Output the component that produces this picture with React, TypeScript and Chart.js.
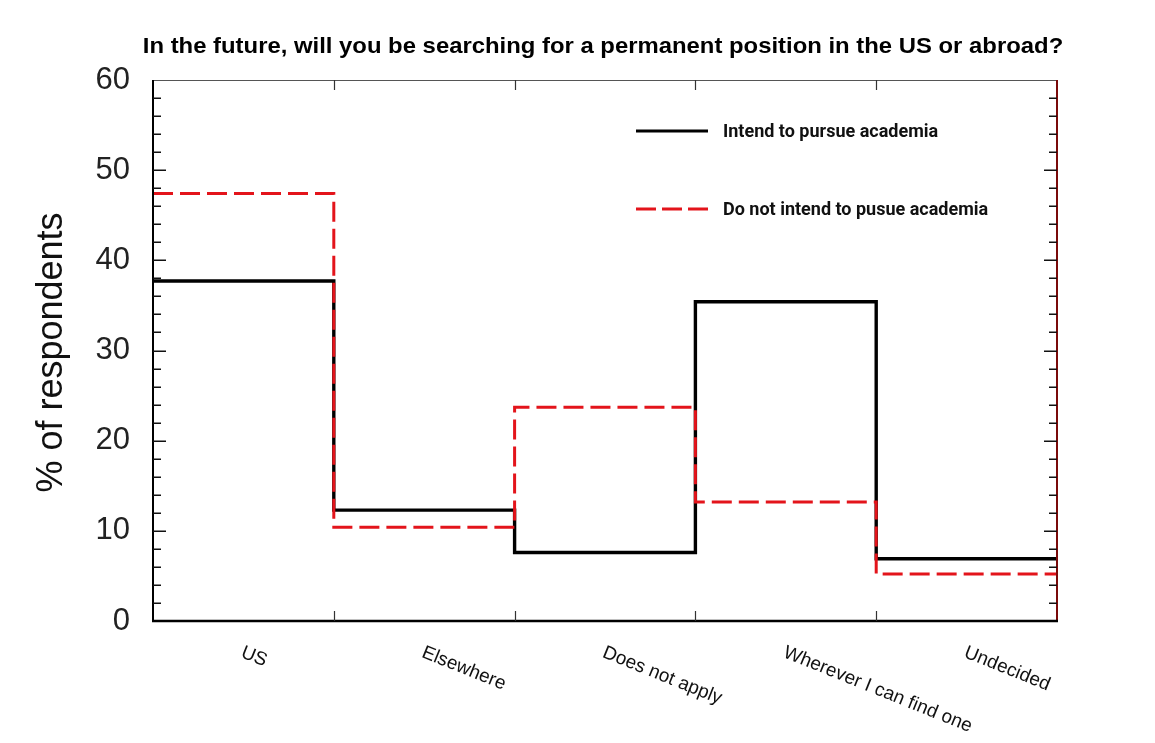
import React, { useEffect, useRef } from "react";
import { Chart, registerables } from "chart.js";

Chart.register(...registerables);

const categories = ["US", "Elsewhere", "Does not apply", "Wherever I can find one", "Undecided"];
const academia = [37.7, 12.3, 7.6, 35.4, 6.9];
const nonAcademia = [47.4, 10.4, 23.7, 13.2, 5.2];
const seriesNames = ["Intend to pursue academia", "Do not intend to pusue academia"];
const yMin = 0;
const yMax = 60;
const yStep = 10;
const yMinorStep = 2;
const chartTitle = "In the future, will you be searching for a permanent position in the US or abroad?";
const yTitle = "% of respondents";

const RED = "#e3141b";
const DASH = [20, 7];

function stepPoints(vals: number[]) {
  const pts: { x: number; y: number }[] = [];
  vals.forEach((v, i) => {
    pts.push({ x: i, y: v });
    pts.push({ x: i + 1, y: v });
  });
  return pts;
}

const decorPlugin = {
  id: "decor",
  afterDatasetsDraw(chart: any) {
    const ctx = chart.ctx as CanvasRenderingContext2D;
    const { left, right, top, bottom } = chart.chartArea;
    const xs = chart.scales.x;
    const ys = chart.scales.y;
    ctx.save();
    // frame
    ctx.lineCap = "butt";
    ctx.strokeStyle = "#555";
    ctx.lineWidth = 1;
    ctx.beginPath();
    ctx.moveTo(left, top + 0.5);
    ctx.lineTo(right, top + 0.5);
    ctx.stroke();
    ctx.strokeStyle = "#000";
    ctx.lineWidth = 2;
    ctx.beginPath();
    ctx.moveTo(left, top);
    ctx.lineTo(left, bottom);
    ctx.stroke();
    ctx.strokeStyle = "#7a0a0a";
    ctx.beginPath();
    ctx.moveTo(right, top);
    ctx.lineTo(right, bottom);
    ctx.stroke();
    ctx.strokeStyle = "#000";
    ctx.lineWidth = 2.5;
    ctx.beginPath();
    ctx.moveTo(left - 1, bottom);
    ctx.lineTo(right + 1, bottom);
    ctx.stroke();
    // y ticks
    ctx.strokeStyle = "#111";
    ctx.lineWidth = 1.5;
    for (let v = yMin + yMinorStep; v < yMax; v += yMinorStep) {
      const y = Math.round(ys.getPixelForValue(v)) + 0.25;
      const len = v % yStep === 0 ? 13 : 8;
      ctx.beginPath();
      ctx.moveTo(left, y);
      ctx.lineTo(left + len, y);
      ctx.moveTo(right, y);
      ctx.lineTo(right - len, y);
      ctx.stroke();
    }
    // x ticks at boundaries
    ctx.lineWidth = 1.2;
    ctx.strokeStyle = "#333";
    for (let i = 1; i < categories.length; i++) {
      const x = Math.round(xs.getPixelForValue(i)) + 0.5;
      ctx.beginPath();
      ctx.moveTo(x, top);
      ctx.lineTo(x, top + 10);
      ctx.moveTo(x, bottom);
      ctx.lineTo(x, bottom - 10);
      ctx.stroke();
    }
    // x labels
    ctx.fillStyle = "#111";
    ctx.font = "19px 'Liberation Sans', Arial, sans-serif";
    ctx.textAlign = "left";
    ctx.textBaseline = "top";
    categories.forEach((c, i) => {
      const cx = xs.getPixelForValue(i + 0.5);
      ctx.save();
      ctx.translate(cx + 2, bottom + 22);
      ctx.rotate((22 * Math.PI) / 180);
      ctx.fillText(c, 0, 0);
      ctx.restore();
    });
    // title
    ctx.save();
    ctx.fillStyle = "#000";
    ctx.font = "bold 22px 'Liberation Sans', Arial, sans-serif";
    ctx.textAlign = "center";
    ctx.textBaseline = "middle";
    ctx.translate((left + right) / 2 - 2, 47);
    ctx.scale(1.085, 1);
    ctx.fillText(chartTitle, 0, 0);
    ctx.restore();
    // y title
    ctx.save();
    ctx.translate(52, (top + bottom) / 2 + 2);
    ctx.rotate(-Math.PI / 2);
    ctx.font = "36px 'Liberation Sans', Arial, sans-serif";
    ctx.fillStyle = "#111";
    ctx.textAlign = "center";
    ctx.textBaseline = "middle";
    ctx.fillText(yTitle, 0, 0);
    ctx.restore();
    // legend
    const lx0 = left + 483;
    const lx1 = left + 555;
    const tx = left + 570;
    const ly = [top + 51, top + 129];
    ctx.lineWidth = 3;
    ctx.strokeStyle = "#000";
    ctx.setLineDash([]);
    ctx.beginPath();
    ctx.moveTo(lx0, ly[0]);
    ctx.lineTo(lx1, ly[0]);
    ctx.stroke();
    ctx.strokeStyle = RED;
    ctx.setLineDash([20, 6]);
    ctx.beginPath();
    ctx.moveTo(lx0, ly[1]);
    ctx.lineTo(lx1, ly[1]);
    ctx.stroke();
    ctx.setLineDash([]);
    ctx.fillStyle = "#111";
    ctx.font = "bold 18px Roboto, 'Liberation Sans', Arial, sans-serif";
    ctx.textAlign = "left";
    ctx.textBaseline = "middle";
    ctx.fillText(seriesNames[0], tx, ly[0] + 1);
    ctx.fillText(seriesNames[1], tx, ly[1] + 1);
    ctx.restore();
  },
};

export default function App() {
  const ref = useRef<HTMLCanvasElement>(null);
  useEffect(() => {
    document.body.style.margin = "0";
    const canvas = ref.current;
    if (!canvas) return;
    const chart = new Chart(canvas, {
      type: "line",
      data: {
        datasets: [
          {
            label: seriesNames[1],
            data: stepPoints(nonAcademia),
            borderColor: RED,
            borderWidth: 3,
            borderDash: DASH,
            pointRadius: 0,
            tension: 0,
            fill: false,
          },
          {
            label: seriesNames[0],
            data: stepPoints(academia),
            borderColor: "#000",
            borderWidth: 3.4,
            pointRadius: 0,
            tension: 0,
            fill: false,
          },
        ],
      },
      options: {
        animation: false,
        responsive: false,
        layout: { padding: { left: 0, right: 98, top: 80, bottom: 0 } },
        plugins: {
          legend: { display: false },
          title: { display: false },
          tooltip: { enabled: false },
        },
        scales: {
          x: {
            type: "linear",
            min: 0,
            max: categories.length,
            grid: { display: false, drawTicks: false },
            border: { display: false },
            ticks: { display: false },
            afterFit: (s: any) => {
              s.height = 122;
            },
          },
          y: {
            min: yMin,
            max: yMax,
            grid: { display: false, drawTicks: false },
            border: { display: false },
            ticks: {
              stepSize: yStep,
              padding: 23,
              color: "#222",
              font: { size: 31, family: "'Liberation Sans', Arial, sans-serif" },
            },
            afterFit: (s: any) => {
              s.width = 153;
            },
          },
        },
      },
      plugins: [decorPlugin],
    });
    return () => chart.destroy();
  }, []);
  return (
    <div style={{ position: "absolute", left: 0, top: 0, width: 1155, height: 743, background: "#fff" }}>
      <canvas ref={ref} width={1155} height={743} style={{ display: "block" }} />
    </div>
  );
}
